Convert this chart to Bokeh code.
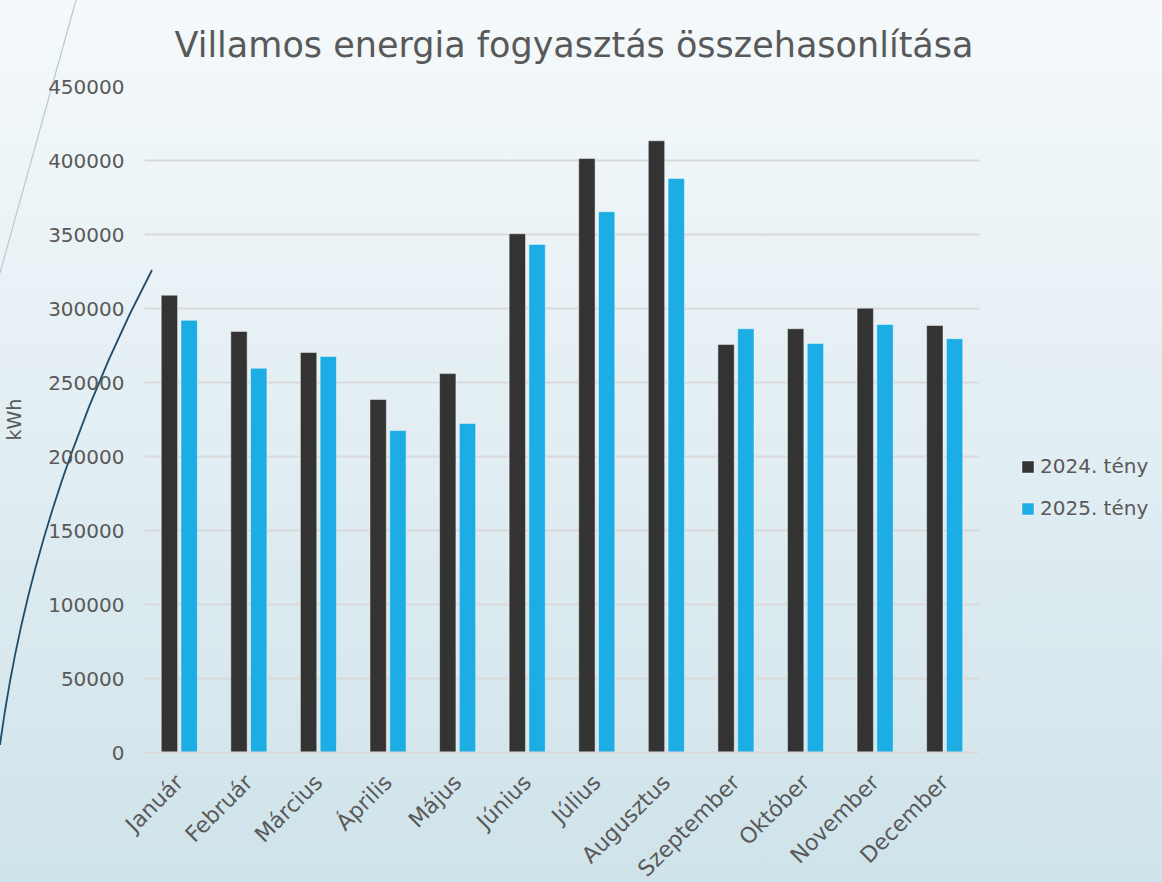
from bokeh.plotting import figure
from bokeh.models import ColumnDataSource, Legend, LegendItem, FactorRange, NumeralTickFormatter, SingleIntervalTicker
from bokeh.transform import dodge
from bokeh.embed import file_html
from bokeh.resources import INLINE
import math

months = ["Január", "Február", "Március", "Április", "Május", "Június",
          "Július", "Augusztus", "Szeptember", "Október", "November", "December"]
teny_2024 = [309000, 284500, 270300, 238500, 256000, 350500, 401300, 413300, 275700, 286300, 300200, 288500]
teny_2025 = [292000, 259700, 267600, 217600, 222300, 343300, 365400, 387800, 286300, 276300, 289200, 279600]
series_names = ["2024. tény", "2025. tény"]
colors = ["#333333", "#1CADE4"]

FONT = "DejaVu Sans"
TXT = "#595959"

src = ColumnDataSource(dict(m=months, a=teny_2024, b=teny_2025))

p = figure(x_range=FactorRange(*months), y_range=(0, 450000),
           frame_width=835, frame_height=666,
           output_backend="svg", toolbar_location=None,
           min_border_left=143, min_border_top=86, min_border_bottom=114,
           min_border_right=168)
p.background_fill_alpha = 0
p.border_fill_alpha = 0
p.outline_line_color = None

r1 = p.vbar(x=dodge("m", -0.142, range=p.x_range), top="a", width=0.235, source=src,
            fill_color=colors[0], line_color="white", line_alpha=0.45, line_width=1)
r2 = p.vbar(x=dodge("m", 0.142, range=p.x_range), top="b", width=0.235, source=src,
            fill_color=colors[1], line_color="white", line_alpha=0.45, line_width=1)

p.title.text = "Villamos energia fogyasztás összehasonlítása"
p.title.text_font = FONT
p.title.text_font_size = "35px"
p.title.text_font_style = "normal"
p.title.text_color = TXT
p.title.align = "left"
p.title.offset = 30
p.title.standoff = 40
p.title.vertical_align = "top"

p.yaxis.ticker = SingleIntervalTicker(interval=50000)
p.yaxis.formatter = NumeralTickFormatter(format="0")
p.yaxis.axis_label = "kWh"
p.yaxis.axis_label_text_font = FONT
p.yaxis.axis_label_text_font_size = "19px"
p.yaxis.axis_label_text_font_style = "normal"
p.yaxis.axis_label_text_color = TXT
p.yaxis.axis_line_color = None
p.yaxis.major_tick_line_color = None
p.yaxis.minor_tick_line_color = None
p.yaxis.major_label_text_font = FONT
p.yaxis.major_label_text_font_size = "20px"
p.yaxis.major_label_text_color = TXT
p.yaxis.major_label_standoff = 14
p.yaxis.axis_label_standoff = 20

p.xaxis.axis_line_color = "#d9d9d9"
p.xaxis.axis_line_width = 2
p.xaxis.major_tick_line_color = None
p.xaxis.minor_tick_line_color = None
p.xaxis.major_label_orientation = math.pi / 4
p.xaxis.major_label_text_font = FONT
p.xaxis.major_label_text_font_size = "22px"
p.xaxis.major_label_text_color = TXT
p.xaxis.major_label_standoff = 20

p.xgrid.grid_line_color = None
p.ygrid.grid_line_color = "#d9d9d9"
p.ygrid.grid_line_width = 2

legend = Legend(items=[LegendItem(label=series_names[0], renderers=[r1]),
                       LegendItem(label=series_names[1], renderers=[r2])],
                location=(41, 232))
legend.background_fill_alpha = 0
legend.border_line_color = None
legend.label_text_font = FONT
legend.label_text_font_size = "20px"
legend.label_text_color = TXT
legend.glyph_width = 15
legend.glyph_height = 15
legend.label_standoff = 5
legend.spacing = 18
legend.padding = 5
legend.margin = 0
p.add_layout(legend, "right")

html = file_html(p, INLINE)
deco = ("<svg xmlns='http://www.w3.org/2000/svg' width='1162' height='882'>"
        "<path d='M76,0 L0,273' stroke='%23b8c8d0' stroke-width='1.2' fill='none'/>"
        "<path d='M152,270 C110,350 30,520 0,745' "
        "stroke='%231f4d6b' stroke-width='1.8' fill='none'/>"
        "</svg>")
style = ("<style>html,body{background:url(\"data:image/svg+xml;utf8," + deco + "\") no-repeat 0 0,"
         "linear-gradient(#f5f9fb,#cfe3ea) no-repeat;min-height:882px;}</style>")
html = html.replace("<head>", "<head>" + style, 1)
open("out.html", "w").write(html)
